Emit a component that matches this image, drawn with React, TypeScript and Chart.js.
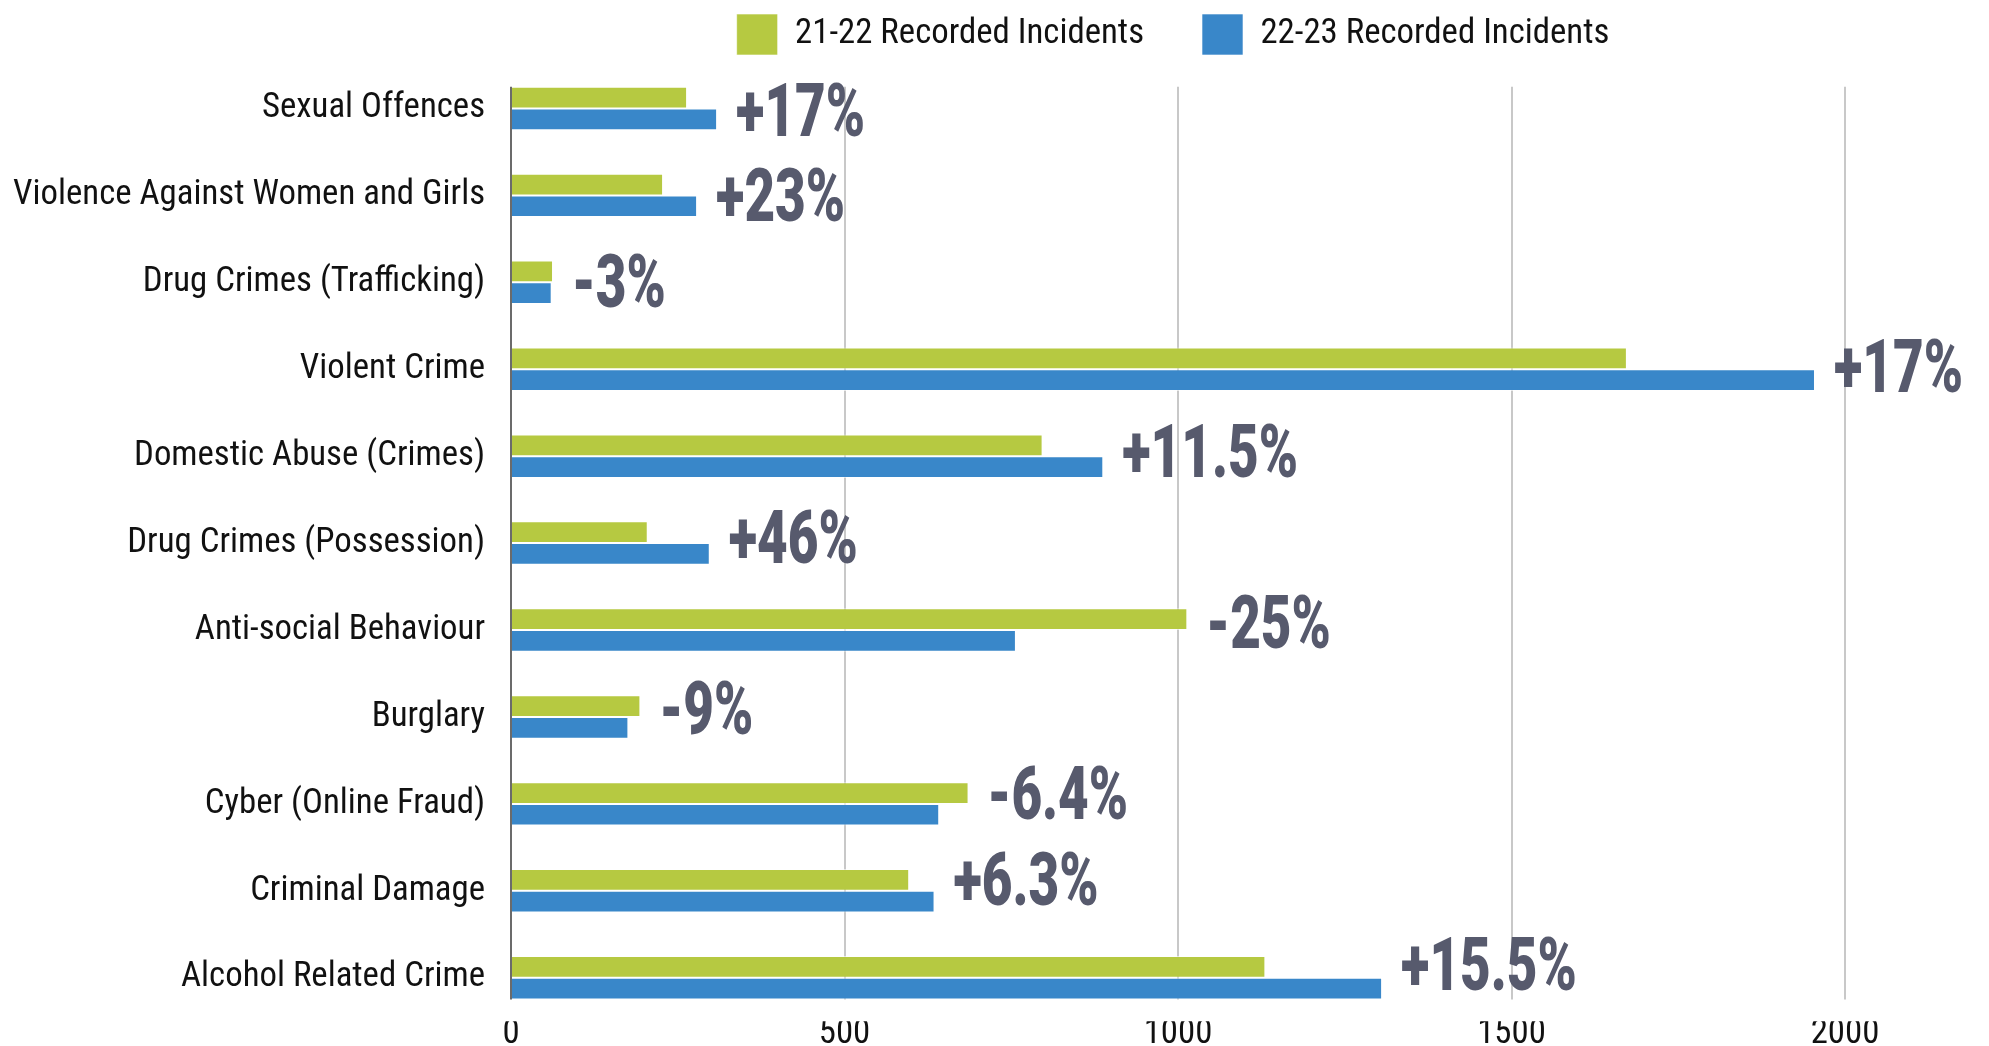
import { useEffect, useRef } from 'react';
import { Chart, registerables } from 'chart.js';

Chart.register(...registerables);

const categories = [
  'Sexual Offences',
  'Violence Against Women and Girls',
  'Drug Crimes (Trafficking)',
  'Violent Crime',
  'Domestic Abuse (Crimes)',
  'Drug Crimes (Possession)',
  'Anti-social Behaviour',
  'Burglary',
  'Cyber (Online Fraud)',
  'Criminal Damage',
  'Alcohol Related Crime',
];
const seriesNames = ['21-22 Recorded Incidents', '22-23 Recorded Incidents'];
const incidents2122 = [264, 228, 63, 1673, 797, 205, 1014, 194, 686, 597, 1131];
const incidents2223 = [309, 279, 61, 1955, 888, 298, 757, 176, 642, 635, 1306];
const changeLabels = ['+17%', '+23%', '-3%', '+17%', '+11.5%', '+46%', '-25%', '-9%', '-6.4%', '+6.3%', '+15.5%'];
const xTickValues = [0, 500, 1000, 1500, 2000];

const GREEN = '#b6c941';
const BLUE = '#3987c9';
const PCT_COLOR = '#575a6d';
const TEXT_COLOR = '#111111';
const CAT_PCT = 0.5;

const W = 1989;
const H = 1046;

function chooseLabelFont() {
  const sample = 'Violence Against Women and Girls';
  const target = 472;
  const ctx = document.createElement('canvas').getContext('2d');
  if (!ctx) return { family: 'Roboto', weight: 'normal', size: 31 };
  const meas = (font: string) => {
    ctx.font = '10px serif';
    ctx.font = font;
    return { w: ctx.measureText(sample).width, applied: ctx.font };
  };
  let family = 'Roboto';
  let weight = 'normal';
  let w34 = 0;
  const base = meas('34px monospace').w;
  const rc = meas("34px 'Roboto Condensed', monospace").w;
  if (Math.abs(rc - base) > 1) {
    family = "'Roboto Condensed', Roboto";
    w34 = meas(`34px ${family}`).w;
  } else {
    const normal = meas('34px Roboto').w;
    const cond = meas('condensed 34px Roboto');
    if (cond.applied.indexOf('condensed') >= 0 && cond.w < normal * 0.95) {
      weight = 'condensed';
      w34 = cond.w;
    } else {
      w34 = normal;
    }
  }
  const size = Math.round(((34 * target) / (w34 || 500)) * 10) / 10;
  return { family, weight, size };
}

export default function App() {
  const ref = useRef<HTMLCanvasElement | null>(null);

  useEffect(() => {
    if (!ref.current) return;
    const lf = chooseLabelFont();
    const labelFont = { family: lf.family, weight: lf.weight as any, size: lf.size, lineHeight: 1.0 };

    const pairBounds = (chart: any) => {
      const { chartArea, scales } = chart;
      const y = scales.y;
      const n = categories.length;
      const band = (chartArea.bottom - chartArea.top) / n;
      const half = (band * CAT_PCT) / 2;
      return { top: y.getPixelForValue(0) - half, bottom: y.getPixelForValue(n - 1) + half };
    };

    const gridPlugin = {
      id: 'customGrid',
      afterLayout(chart: any) {
        if (chart.legend) {
          chart.legend.left -= 5;
          chart.legend.right -= 5;
        }
      },
      beforeDatasetsDraw(chart: any) {
        const { ctx, scales } = chart;
        const x = scales.x;
        const { top, bottom } = pairBounds(chart);
        ctx.save();
        ctx.strokeStyle = '#c8c8c8';
        ctx.lineWidth = 2;
        x.ticks.forEach((t: any) => {
          if (t.value === 0) return;
          const px = Math.round(x.getPixelForValue(t.value));
          ctx.beginPath();
          ctx.moveTo(px, top);
          ctx.lineTo(px, bottom);
          ctx.stroke();
        });
        ctx.restore();
      },
      afterDatasetsDraw(chart: any) {
        const { ctx, scales } = chart;
        const x = scales.x;
        const y = scales.y;
        const { top, bottom } = pairBounds(chart);
        ctx.save();
        ctx.strokeStyle = '#6b6b6b';
        ctx.lineWidth = 2;
        const px0 = Math.round(x.getPixelForValue(0));
        ctx.beginPath();
        ctx.moveTo(px0, top);
        ctx.lineTo(px0, bottom);
        ctx.stroke();

        const size = 75;
        ctx.font = `900 ${size}px Roboto`;
        const sx = 129 / ctx.measureText('+17%').width;
        const asc = ctx.measureText('17').actualBoundingBoxAscent || size * 0.711;
        ctx.fillStyle = PCT_COLOR;
        ctx.textAlign = 'left';
        ctx.textBaseline = 'alphabetic';
        changeLabels.forEach((t, i) => {
          const end = Math.max(x.getPixelForValue(incidents2122[i]), x.getPixelForValue(incidents2223[i]));
          const cy = y.getPixelForValue(i) + 10 - 1.45 * i;
          ctx.save();
          ctx.translate(end + 19, cy + asc / 2);
          ctx.scale(sx, 1);
          ctx.fillText(t, 0, 0);
          ctx.restore();
        });
        ctx.restore();
      },
    };

    const legendPad = 58;

    const chart = new Chart(ref.current, {
      type: 'bar',
      data: {
        labels: categories,
        datasets: [
          {
            label: seriesNames[0],
            data: incidents2122,
            backgroundColor: GREEN,
            borderColor: 'rgba(255,255,255,0.6)',
            borderWidth: 1,
            categoryPercentage: CAT_PCT,
            barPercentage: 1.0,
          },
          {
            label: seriesNames[1],
            data: incidents2223,
            backgroundColor: BLUE,
            borderColor: 'rgba(255,255,255,0.6)',
            borderWidth: 1,
            categoryPercentage: CAT_PCT,
            barPercentage: 1.0,
          },
        ],
      },
      options: {
        indexAxis: 'y',
        responsive: false,
        animation: false,
        devicePixelRatio: 1,
        layout: {
          padding: { top: 14 - legendPad, right: W - 1845, bottom: -2, left: 0 },
        },
        plugins: {
          legend: {
            display: true,
            position: 'top',
            align: 'center',
            fullSize: false,
            labels: {
              boxWidth: 41,
              boxHeight: 41,
              padding: legendPad,
              color: TEXT_COLOR,
              font: labelFont,
            },
          },
          tooltip: { enabled: false },
          title: { display: false },
        },
        scales: {
          x: {
            type: 'linear',
            min: xTickValues[0],
            max: xTickValues[xTickValues.length - 1],
            afterBuildTicks: (scale: any) => {
              scale.ticks = xTickValues.map((v) => ({ value: v }));
            },
            grid: { display: false, drawTicks: false },
            border: { display: false },
            ticks: {
              color: TEXT_COLOR,
              font: labelFont,
              padding: -4,
              maxRotation: 0,
              callback: (v: any) => String(v),
            },
          },
          y: {
            type: 'category',
            offset: true,
            grid: { display: false, drawTicks: false },
            border: { display: false },
            afterFit: (scale: any) => {
              scale.width = 511;
              scale.paddingTop = 0;
              scale.paddingBottom = 0;
            },
            ticks: {
              color: TEXT_COLOR,
              font: labelFont,
              padding: 26,
              autoSkip: false,
            },
          },
        },
      },
      plugins: [gridPlugin],
    });

    return () => {
      chart.destroy();
    };
  }, []);

  return (
    <div style={{ position: 'fixed', left: 0, top: 0, width: W, height: H, background: '#ffffff' }}>
      <canvas ref={ref} width={W} height={H} style={{ display: 'block', width: W, height: H }} />
    </div>
  );
}
